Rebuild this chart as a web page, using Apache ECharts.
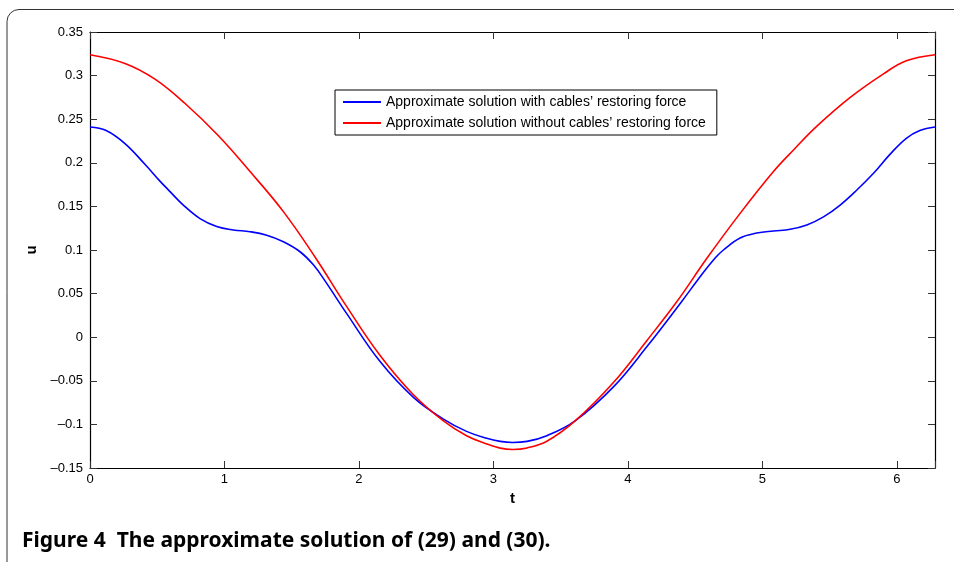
<!DOCTYPE html>
<html>
<head>
<meta charset="utf-8">
<title>Figure 4</title>
<script src="https://cdn.jsdelivr.net/npm/echarts@6/dist/echarts.min.js"></script>
<style>
	html, body { margin: 0; padding: 0; background: #fff; }
	#chart { width: 954px; height: 562px; }
</style>
</head>
<body>
<div id="chart"></div>
<script>
// with cables' restoring force (t, u)
var blueT = [0, 0.12, 0.26, 0.41, 0.52, 0.595, 0.694, 0.818, 0.942, 1.066, 1.19, 1.314, 1.438, 1.562, 1.661, 1.75, 1.909, 2.157, 2.405, 2.628, 2.80, 2.95, 3.05, 3.1416,
	3.25, 3.397, 3.607, 3.892, 4.14, 4.40, 4.52, 4.65, 4.71, 4.834, 4.958, 5.082, 5.206, 5.33, 5.454, 5.578, 5.702, 5.826, 5.95, 6.07, 6.17, 6.2832];
var blueVals = [0.241, 0.237, 0.222, 0.198, 0.179, 0.167, 0.1515, 0.136, 0.127, 0.123, 0.121, 0.117, 0.1095, 0.098, 0.083, 0.064, 0.027, -0.028, -0.069, -0.094, -0.108, -0.116, -0.1195, -0.1207,
	-0.1195, -0.113, -0.096, -0.057, -0.011, 0.041, 0.066, 0.091, 0.100, 0.1138, 0.1194, 0.1218, 0.1237, 0.1287, 0.138, 0.1516, 0.1688, 0.188, 0.210, 0.228, 0.237, 0.241];

// without cables' restoring force
var redT = [0, 0.26, 0.483, 0.707, 0.955, 1.19, 1.438, 1.673, 1.909, 2.157, 2.405, 2.628, 2.80, 2.95, 3.05, 3.1416,
	3.25, 3.397, 3.607, 3.892, 4.14, 4.36, 4.587, 4.834, 5.082, 5.231, 5.405, 5.653, 5.90, 6.07, 6.2832];
var redVals = [0.324, 0.314, 0.296, 0.268, 0.231, 0.190, 0.144, 0.092, 0.035, -0.021, -0.066, -0.096, -0.113, -0.1225, -0.1272, -0.1287,
	-0.1270, -0.1193, -0.096, -0.052, -0.004, 0.040, 0.0905, 0.142, 0.190, 0.2147, 0.242, 0.275, 0.302, 0.317, 0.324];

var seriesNames = ["Approximate solution with cables\u2019 restoring force", "Approximate solution without cables\u2019 restoring force"];
var xTickLabels = ["0", "1", "2", "3", "4", "5", "6"];
var captionText = "Figure 4  The approximate solution of (29) and (30).";

var FONT = "Liberation Sans, Arial, sans-serif";

function pairs(xs, ys){
	var out = [];
	for(var i = 0; i < xs.length; i++){
		out.push([xs[i], ys[i]]);
	}
	return out;
}

function yLabel(v){
	var s = String(+(+v).toFixed(2));
	return s.replace("-", "\u2013");
}

function xLabel(v){
	var k = Math.round(v);
	if(Math.abs(v - k) > 1e-6) return "";
	return xTickLabels[k] !== undefined ? xTickLabels[k] : "";
}

var chart = echarts.init(document.getElementById("chart"), null, {renderer: "canvas"});

var tickStyle = {show: true, inside: true, length: 7, lineStyle: {color: "#333", width: 1}};
var lineStyle = {show: true, onZero: false, lineStyle: {color: "#000", width: 1.2}};

var option = {
	backgroundColor: "#fff",
	animation: false,
	grid: {left: 90, right: 19, top: 32, bottom: 94, containLabel: false},
	legend: {
		left: 335,
		top: 90,
		orient: "vertical",
		data: seriesNames,
		itemWidth: 38,
		itemHeight: 14,
		itemGap: 7,
		padding: [5, 11, 5, 7],
		borderColor: "#000",
		borderWidth: 1,
		borderRadius: 0,
		backgroundColor: "#fff",
		itemStyle: {opacity: 0},
		textStyle: {fontFamily: FONT, fontSize: 14, color: "#000"}
	},
	xAxis: [
		{
			type: "value", min: 0, max: 2 * Math.PI, interval: 1,
			name: "t", nameLocation: "middle", nameGap: 15,
			nameTextStyle: {fontFamily: FONT, fontSize: 15, fontWeight: "bold", color: "#000"},
			axisLine: lineStyle, axisTick: tickStyle, splitLine: {show: false},
			axisLabel: {formatter: xLabel, fontFamily: FONT, fontSize: 13, color: "#000", margin: 5}
		},
		{
			type: "value", min: 0, max: 2 * Math.PI, interval: 1, position: "top",
			axisLine: lineStyle, axisTick: tickStyle, splitLine: {show: false},
			axisLabel: {show: false}
		}
	],
	yAxis: [
		{
			type: "value", min: -0.15, max: 0.35, interval: 0.05,
			name: "u", nameLocation: "middle", nameGap: 44,
			nameTextStyle: {fontFamily: FONT, fontSize: 15, fontWeight: "bold", color: "#000"},
			axisLine: lineStyle, axisTick: tickStyle, splitLine: {show: false},
			axisLabel: {formatter: yLabel, fontFamily: FONT, fontSize: 13, color: "#000", margin: 7}
		},
		{
			type: "value", min: -0.15, max: 0.35, interval: 0.05, position: "right",
			axisLine: lineStyle, axisTick: tickStyle, splitLine: {show: false},
			axisLabel: {show: false}
		}
	],
	series: [
		{
			name: seriesNames[0], type: "line", xAxisIndex: 0, yAxisIndex: 0,
			data: pairs(blueT, blueVals), smooth: 0.4, showSymbol: false, symbol: "none",
			lineStyle: {color: "#0000ff", width: 1.6}, itemStyle: {color: "#0000ff"}
		},
		{
			name: seriesNames[1], type: "line", xAxisIndex: 0, yAxisIndex: 0,
			data: pairs(redT, redVals), smooth: 0.4, showSymbol: false, symbol: "none",
			lineStyle: {color: "#ff0000", width: 1.6}, itemStyle: {color: "#ff0000"}
		}
	],
	graphic: [
		{
			// page frame round the figure
			type: "rect", silent: true, z: -1,
			shape: {x: 7, y: 9.5, width: 1000, height: 600, r: [12, 0, 0, 0]},
			style: {fill: "none", stroke: "#333", lineWidth: 1}
		},
		{
			type: "text", silent: true,
			style: {x: 22, y: 541, text: captionText, verticalAlign: "middle",
				fontFamily: "Noto Sans, Open Sans, sans-serif", fontSize: 21, fontWeight: "bold", fill: "#000"}
		}
	]
};

chart.setOption(option);
</script>
</body>
</html>
